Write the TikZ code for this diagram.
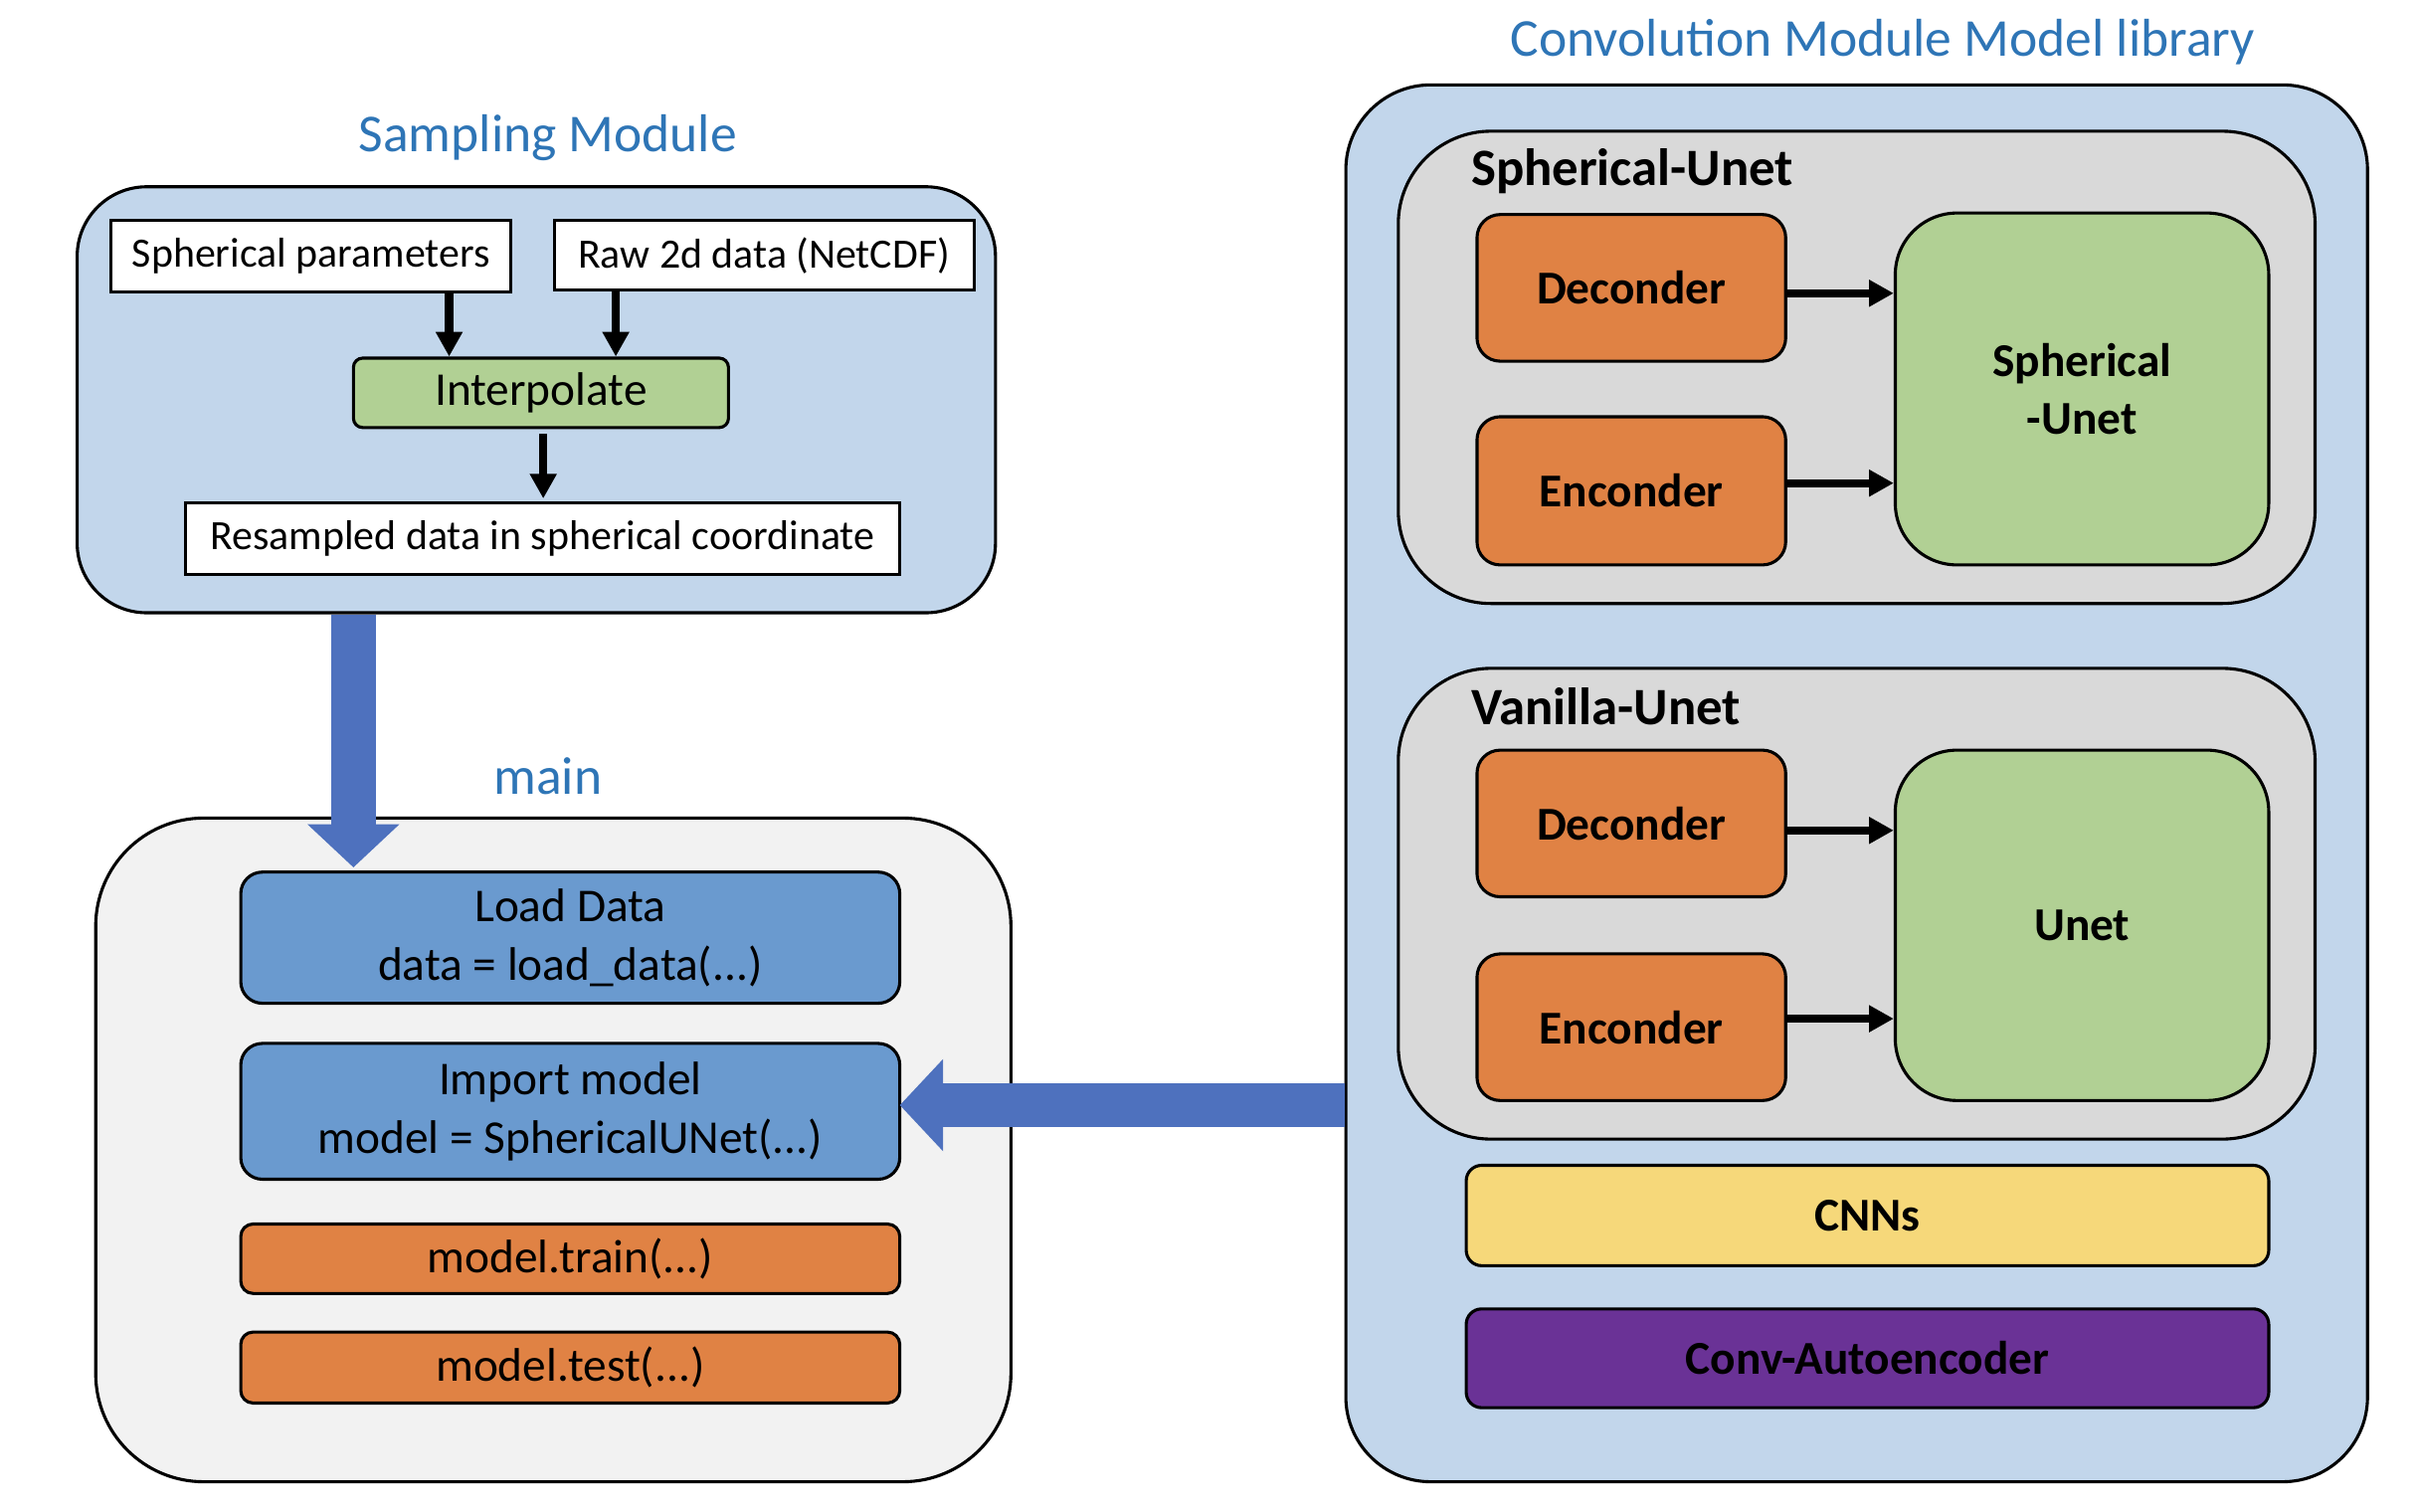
\documentclass[tikz,border=0pt]{standalone}
\usepackage{fontspec}
\setmainfont{Carlito}
\usetikzlibrary{arrows.meta,calc}
\definecolor{lblue}{RGB}{194,214,235}
\definecolor{lgray}{RGB}{217,217,217}
\definecolor{vlgray}{RGB}{242,242,242}
\definecolor{orng}{RGB}{224,130,68}
\definecolor{grn}{RGB}{177,208,148}
\definecolor{mblue}{RGB}{106,154,207}
\definecolor{ylw}{RGB}{246,216,122}
\definecolor{prpl}{RGB}{106,50,150}
\definecolor{tblue}{RGB}{46,117,182}
\definecolor{barrow}{RGB}{78,113,190}
\tikzset{
  panel/.style={draw=black, line width=2pt, inner sep=0pt},
  plain/.style={draw=black, fill=white, line width=2pt, inner sep=0pt, font=\fontsize{27}{31}\selectfont},
  rbox/.style={draw=black, line width=2pt, inner sep=0pt, align=center},
  ttl/.style={text=tblue, font=\fontsize{34.5}{40}\selectfont},
  lbl/.style={font=\bfseries\fontsize{34}{40}\selectfont, anchor=west, inner sep=0pt},
  sarrow/.style={line width=5.3pt, -{Triangle[width=16.5pt,length=16pt]}},
  barrowst/.style={draw=barrow, line width=29pt, -{Triangle[width=58pt,length=28pt]}},
  bodyfont/.style={font=\fontsize{30.5}{38}\selectfont},
  boldfont/.style={font=\bfseries\fontsize{30.5}{37}\selectfont},
}
\begin{document}
\begin{tikzpicture}[x=1pt,y=-1pt]
\useasboundingbox (0,0) rectangle (1568,979);
% ---------- Sampling module
\node[ttl] (samptitle) at (355,89) {Sampling Module};
\node[panel, fill=lblue, rounded corners=45pt, minimum width=595pt, minimum height=276pt] (samp) at (347.5,259) {};
\node[plain, minimum width=259pt, minimum height=46pt] (sp) at (201.5,166) {Spherical parameters};
\node[plain, minimum width=272pt, minimum height=45pt] (raw) at (495,165.5) {Raw 2d data (NetCDF)};
\node[plain, fill=grn, rounded corners=6pt, minimum width=243pt, minimum height=45pt, bodyfont] (interp) at (350.5,254.5) {Interpolate};
\node[plain, minimum width=463pt, minimum height=46pt] (res) at (351.5,349) {Resampled data in spherical coordinate};
\coordinate (x1) at (291,0);
\coordinate (x2) at (399,0);
\coordinate (x3) at (352,0);
\draw[sarrow] (sp.south -| x1) -- (interp.north -| x1);
\draw[sarrow] (raw.south -| x2) -- (interp.north -| x2);
\draw[sarrow] ([yshift=-3pt]interp.south -| x3) -- ([yshift=2pt]res.north -| x3);
% ---------- main
\node[ttl] (maintitle) at (355,503) {main};
\node[panel, fill=vlgray, rounded corners=70pt, minimum width=593pt, minimum height=430pt] (mainbox) at (358.5,745) {};
\node[rbox, fill=mblue, rounded corners=14pt, minimum width=427pt, minimum height=85pt, bodyfont] (load) at (369.5,607.5) {Load Data\\data = load\_data(...)};
\node[rbox, fill=mblue, rounded corners=14pt, minimum width=427pt, minimum height=88pt, bodyfont] (import) at (369.5,720) {Import model\\model = SphericalUNet(...)};
\node[rbox, fill=orng, rounded corners=8pt, minimum width=427pt, minimum height=45pt, bodyfont] (train) at (369.5,815.5) {model.train(...)};
\node[rbox, fill=orng, rounded corners=8pt, minimum width=427pt, minimum height=46pt, bodyfont] (test) at (369.5,886) {model.test(...)};
% ---------- Convolution module library
\node[ttl] (convtitle) at (1220,27) {Convolution Module Model library};
\node[panel, fill=lblue, rounded corners=55pt, minimum width=662pt, minimum height=905pt] (outer) at (1203,507.5) {};
% Spherical-Unet group
\node[panel, fill=lgray, rounded corners=60pt, minimum width=594pt, minimum height=306pt] (g1) at (1203,238) {};
\node[lbl] (g1lbl) at (953,111) {Spherical-Unet};
\node[rbox, fill=orng, rounded corners=15pt, minimum width=200pt, minimum height=95pt, boldfont] (dec1) at (1057,186.5) {Deconder};
\node[rbox, fill=orng, rounded corners=15pt, minimum width=200pt, minimum height=96pt, boldfont] (enc1) at (1057,318) {Enconder};
\node[rbox, fill=grn, rounded corners=40pt, minimum width=242pt, minimum height=228pt, boldfont] (sph1) at (1349,252) {Spherical\\-Unet};
\draw[sarrow] ([yshift=-3.5pt]dec1.east) -- ([yshift=-3.5pt]dec1.east -| sph1.west);
\draw[sarrow] ([yshift=5pt]enc1.east) -- ([yshift=5pt]enc1.east -| sph1.west);
% Vanilla-Unet group
\node[panel, fill=lgray, rounded corners=60pt, minimum width=594pt, minimum height=305pt] (g2) at (1203,585.5) {};
\node[lbl] (g2lbl) at (953,458) {Vanilla-Unet};
\node[rbox, fill=orng, rounded corners=15pt, minimum width=200pt, minimum height=95pt, boldfont] (dec2) at (1057,533.5) {Deconder};
\node[rbox, fill=orng, rounded corners=15pt, minimum width=200pt, minimum height=95pt, boldfont] (enc2) at (1057,665.5) {Enconder};
\node[rbox, fill=grn, rounded corners=40pt, minimum width=242pt, minimum height=227pt, boldfont] (unet) at (1349,599.5) {Unet};
\draw[sarrow] ([yshift=-4.5pt]dec2.east) -- ([yshift=-4.5pt]dec2.east -| unet.west);
\draw[sarrow] ([yshift=5.5pt]enc2.east) -- ([yshift=5.5pt]enc2.east -| unet.west);
% other models
\node[rbox, fill=ylw, rounded corners=10pt, minimum width=520pt, minimum height=65pt, boldfont] (cnn) at (1210,787.5) {CNNs};
\node[rbox, fill=prpl, rounded corners=10pt, minimum width=520pt, minimum height=64pt, boldfont] (cae) at (1210,880) {Conv-Autoencoder};
% ---------- big arrows
\coordinate (ax) at (229,0);
\draw[barrowst] (samp.south -| ax) -- ([yshift=2pt]load.north -| ax);
\draw[barrowst] ([yshift=4pt]import.east -| outer.west) -- ([yshift=4pt,xshift=-1pt]import.east);
\end{tikzpicture}
\end{document}
